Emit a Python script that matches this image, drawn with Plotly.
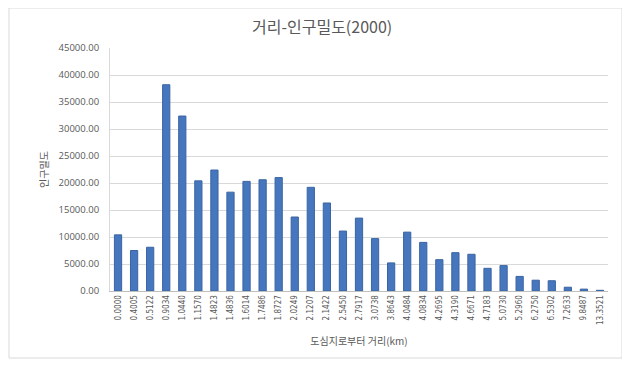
import plotly.graph_objects as go

distances = ["0.0000", "0.4005", "0.5122", "0.9034", "1.0440", "1.1570", "1.4823", "1.4836",
             "1.6014", "1.7486", "1.8727", "2.0249", "2.1207", "2.1422", "2.5450", "2.7917",
             "3.0738", "3.8643", "4.0484", "4.0834", "4.2695", "4.3190", "4.6671", "4.7183",
             "5.0730", "5.2960", "6.2750", "6.5302", "7.2633", "9.8487", "13.3521"]
density = [10400, 7500, 8100, 38200, 32400, 20400, 22400, 18300, 20300, 20600, 21000,
           13700, 19200, 16300, 11100, 13500, 9700, 5200, 10900, 9000, 5800, 7100, 6800,
           4200, 4700, 2700, 2000, 1900, 700, 350, 130]
y_ticks = [0, 5000, 10000, 15000, 20000, 25000, 30000, 35000, 40000, 45000]

fig = go.Figure(go.Bar(
    x=distances, y=density,
    marker=dict(color="#4677BE", line=dict(color="#3A64A0", width=1)),
))

PW, PH = 498, 243
fig.update_layout(
    width=622, height=357,
    paper_bgcolor="white", plot_bgcolor="white",
    margin=dict(l=102, r=22, t=40, b=74, autoexpand=False),
    bargap=0.55,
    showlegend=False,
    title=dict(text="거리-인구밀도(2000)", x=0.505, xanchor="center", y=0.947, yanchor="middle",
               font=dict(family="Noto Sans CJK KR", size=16, color="#595959")),
    font=dict(family="Noto Sans CJK KR", color="#595959"),
    shapes=[dict(type="rect", xref="paper", yref="paper",
                 x0=-101 / PW, x1=1 + 14 / PW, y0=-67 / PH, y1=1 + 40 / PH,
                 line=dict(color="#D9D9D9", width=1), layer="below")],
)

fig.update_xaxes(
    type="category", tickangle=-90, automargin=False,
    tickfont=dict(family="DejaVu Sans Condensed", size=8, color="#595959"),
    showline=True, linecolor="#BFBFBF", linewidth=1, ticks="", showgrid=False,
    title=dict(text="도심지로부터 거리(km)", standoff=14,
               font=dict(family="Noto Sans CJK KR", size=10, color="#595959")),
)
fig.update_yaxes(
    range=[0, 45000], tickvals=y_ticks, tickformat=".2f", automargin=False,
    tickfont=dict(family="Open Sans", size=9.5, color="#595959"),
    showgrid=True, gridcolor="#D9D9D9", gridwidth=1,
    showline=True, linecolor="#D9D9D9", zeroline=False, ticks="",
    ticklabelstandoff=8,
    title=dict(text="인구밀도", standoff=8,
               font=dict(family="Noto Sans CJK KR", size=10, color="#595959")),
)

fig.write_html("out.html")
